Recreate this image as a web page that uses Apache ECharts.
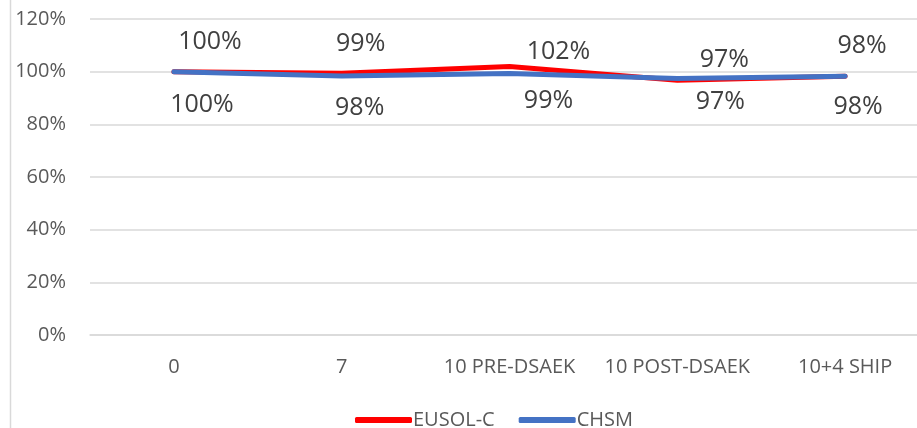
<!DOCTYPE html>
<html>
<head>
<meta charset="utf-8">
<script src="https://cdn.jsdelivr.net/npm/echarts@6/dist/echarts.min.js"></script>
<style>
  html, body { margin: 0; padding: 0; background: #fff; }
  #chart { width: 917px; height: 428px; }
</style>
</head>
<body>
<div id="chart"></div>
<script>
  // data (percent)
  const categories = ['0', '7', '10 PRE-DSAEK', '10 POST-DSAEK', '10+4 SHIP']
  const eusolC = [100, 99.4, 102, 96.7, 98.3]
  const chsm = [100, 98.4, 99.3, 97.4, 98.3]
  const yTicks = { min: 0, max: 120, step: 20 }

  // label nudges, same as the hand-placed labels in the source
  const redLabelShift = [[36, -30], [19, -29], [49, -15], [47, -20], [17, -30]]
  const blueLabelShift = [[28, 33], [18, 32], [39, 27], [43, 23], [13, 31]]

  const font = 'Open Sans'
  const textColor = '#595959'

  function withLabels(values, shifts) {
    return values.map((v, i) => ({
      value: v,
      label: { offset: shifts[i] }
    }))
  }

  function lineSeries(name, color, values, shifts) {
    return {
      name: name,
      type: 'line',
      data: withLabels(values, shifts),
      symbol: 'circle',
      symbolSize: 0.1,
      itemStyle: { color: color },
      lineStyle: { color: color, width: 5, cap: 'round', join: 'round' },
      label: {
        show: true,
        position: 'inside',
        align: 'center',
        verticalAlign: 'middle',
        fontFamily: font,
        fontSize: 25,
        color: '#404040',
        formatter: p => Math.round(p.value) + '%'
      },
      emphasis: { disabled: true },
      animation: false
    }
  }

  const chart = echarts.init(document.getElementById('chart'))
  chart.setOption({
    animation: false,
    textStyle: { fontFamily: font },
    grid: { left: 90, right: -12, top: 19, bottom: 93, outerBoundsMode: 'none', containLabel: false },
    legend: {
      left: 350,
      top: 405,
      itemWidth: 57,
      itemHeight: 6,
      itemGap: 24,
      icon: 'roundRect',
      textStyle: { fontFamily: font, fontSize: 20, color: textColor, padding: [0, 0, 0, -4] },
      data: ['EUSOL-C', 'CHSM']
    },
    xAxis: {
      type: 'category',
      data: categories,
      boundaryGap: true,
      axisLine: { show: true, lineStyle: { color: '#D9D9D9', width: 1.5 } },
      axisTick: { show: false },
      axisLabel: { fontFamily: font, fontSize: 20, color: textColor, margin: 22, interval: 0, hideOverlap: false }
    },
    yAxis: {
      type: 'value',
      min: yTicks.min,
      max: yTicks.max,
      interval: yTicks.step,
      axisLine: { show: false },
      axisTick: { show: false },
      axisLabel: { fontFamily: font, fontSize: 20, color: textColor, margin: 24, formatter: '{value}%' },
      splitLine: { lineStyle: { color: '#D9D9D9', width: 1.5 } }
    },
    graphic: [{
      type: 'line',
      shape: { x1: 10.5, y1: 0, x2: 10.5, y2: 428 },
      style: { stroke: '#D9D9D9', lineWidth: 1.5 }
    }],
    series: [
      lineSeries('EUSOL-C', '#FF0000', eusolC, redLabelShift),
      lineSeries('CHSM', '#4472C4', chsm, blueLabelShift)
    ]
  })
</script>
</body>
</html>
